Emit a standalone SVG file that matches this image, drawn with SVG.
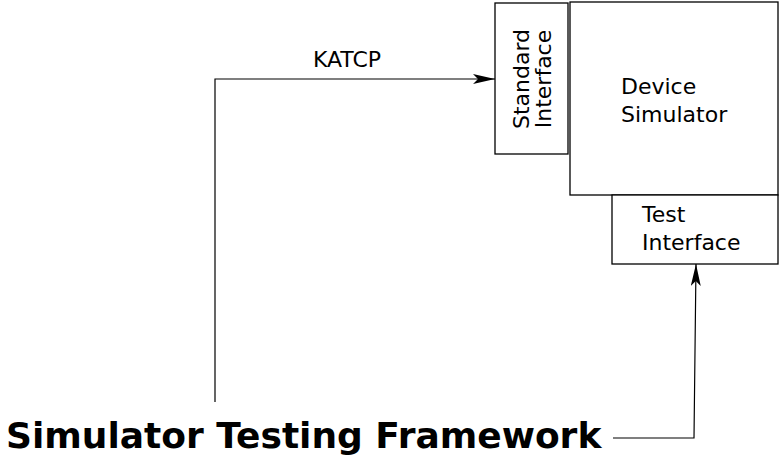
<svg xmlns="http://www.w3.org/2000/svg" width="780" height="455" viewBox="0 0 780 455">
<style>
.box{fill:#fff;stroke:#000;stroke-width:1.3}
.lbl{font-family:"DejaVu Sans",sans-serif;font-size:22px;fill:#000}
.ln{fill:none;stroke:#000;stroke-width:1.2}
.title{font-family:"DejaVu Sans",sans-serif;font-weight:bold;font-size:36px;fill:#000}
</style>
<defs>
<marker id="arr" markerWidth="22" markerHeight="10" refX="22" refY="5" orient="auto" markerUnits="userSpaceOnUse">
<path d="M0,0 L22,5 L0,10 L5,5 Z" fill="#000"/>
</marker>
</defs>
<rect width="780" height="455" fill="#fff"/>
<g id="device-simulator">
<rect class="box" x="570" y="2" width="208" height="193"/>
<text class="lbl" x="621" y="94">Device</text>
<text class="lbl" x="621" y="122">Simulator</text>
</g>
<g id="standard-interface">
<rect class="box" x="495" y="3" width="73" height="151"/>
<text class="lbl" transform="translate(529,79) rotate(-90)" text-anchor="middle">Standard</text>
<text class="lbl" transform="translate(551,79) rotate(-90)" text-anchor="middle">Interface</text>
</g>
<g id="test-interface">
<rect class="box" x="612" y="195" width="166" height="69"/>
<text class="lbl" x="642" y="222">Test</text>
<text class="lbl" x="642" y="250">Interface</text>
</g>
<g id="framework">
<text class="title" x="6" y="448">Simulator Testing Framework</text>
</g>
<g id="connectors">
<polyline class="ln" points="215,402 215,79 495,79" marker-end="url(#arr)"/>
<text class="lbl" x="347" y="67" text-anchor="middle">KATCP</text>
<polyline class="ln" points="613,438 694,438 696,264" marker-end="url(#arr)"/>
</g>
</svg>
